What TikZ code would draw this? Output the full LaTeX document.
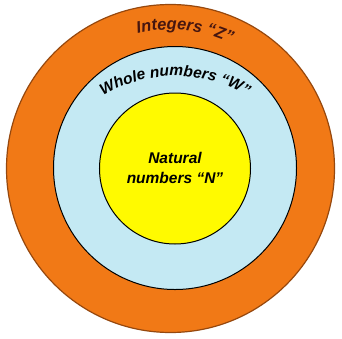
\documentclass[tikz,border=0pt]{standalone}
\usepackage{fontspec}
\setmainfont{Liberation Sans}
\usetikzlibrary{decorations.text,calc}

\definecolor{zorange}{RGB}{241,121,22}
\definecolor{zedge}{RGB}{150,72,14}
\definecolor{zlabel}{RGB}{70,22,16}
\definecolor{wblue}{RGB}{196,233,243}
\definecolor{nyellow}{RGB}{255,250,0}

\begin{document}
\begin{tikzpicture}[
    x=1pt, y=1pt,
    disc/.style={circle, inner sep=0pt, outer sep=0pt, line width=1pt},
    setlabel/.style={align=center, font=\fontsize{15.5}{20}\selectfont\bfseries\itshape}
]
\useasboundingbox (-170,-169) rectangle (172,169);

% nested sets
\node[disc, fill=zorange, draw=zedge, line width=1.2pt, minimum size=328pt] (zset) at (0.5,0.5) {};
\node[disc, fill=wblue, draw=black, minimum size=243pt] (wset) at (5,1) {};
\node[disc, fill=nyellow, draw=black, minimum size=151pt] (nset) at (5,0.5) {};

\node[setlabel] (nlabel) at (5,1) {Natural\\numbers “N”};

% curved labels
\path[decorate, decoration={text along path, text align=center,
        text={|\color{zlabel}\fontsize{16.5}{18}\selectfont\bfseries\itshape|Integers “Z”}}]
    ($(zset.center)+(134:139)$) arc[start angle=134, end angle=34, radius=139];
\path[decorate, decoration={text along path, text align=center,
        text={|\color{black}\fontsize{15.5}{18}\selectfont\bfseries\itshape|Whole numbers “W”}}]
    ($(wset.center)+(0,-47)+(130:139)$) arc[start angle=130, end angle=50, radius=139];

\end{tikzpicture}
\end{document}
